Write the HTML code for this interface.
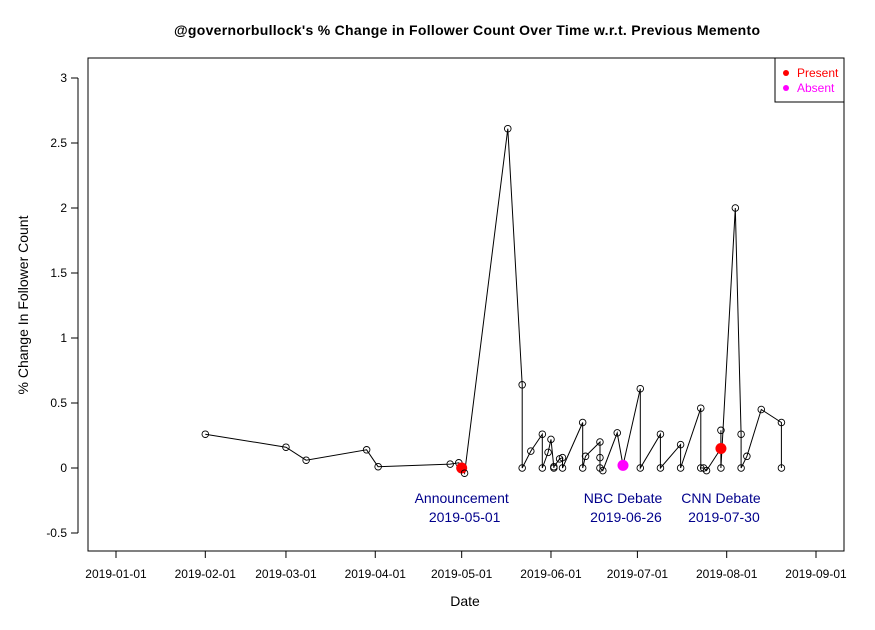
<!DOCTYPE html>
<html><head><meta charset="utf-8"><style>
body{margin:0;background:#fff}
svg{font-family:"Liberation Sans",sans-serif}
</style></head><body>
<svg id="c" width="875" height="625">
<rect width="875" height="625" fill="#fff"/>
<text x="467" y="35" text-anchor="middle" font-size="14" font-weight="bold" textLength="586">@governorbullock's % Change in Follower Count Over Time w.r.t. Previous Memento</text>
<rect x="88" y="58" width="756" height="493" fill="none" stroke="#000"/>
<text x="465" y="606" text-anchor="middle" font-size="14">Date</text>
<text transform="translate(28,305) rotate(-90)" text-anchor="middle" font-size="14">% Change In Follower Count</text>
<g id="axes"></g><g id="series"></g><g id="ann"></g>
<g>
<rect x="775" y="58" width="69" height="44" fill="#fff" stroke="#000"/>
<circle cx="786" cy="73" r="3" fill="#f00"/><text x="797" y="77" font-size="12" fill="#f00">Present</text>
<circle cx="786" cy="88" r="3" fill="#f0f"/><text x="797" y="92" font-size="12" fill="#f0f">Absent</text>
</g>
</svg>
<script>
const dates=["2019-02-01","2019-03-01","2019-03-08","2019-03-29","2019-04-02","2019-04-27","2019-04-30","2019-05-01","2019-05-02","2019-05-17","2019-05-22","2019-05-22","2019-05-25","2019-05-29","2019-05-29","2019-05-31","2019-06-01","2019-06-02","2019-06-02","2019-06-04","2019-06-05","2019-06-05","2019-06-12","2019-06-12","2019-06-13","2019-06-18","2019-06-18","2019-06-18","2019-06-19","2019-06-24","2019-06-26","2019-07-02","2019-07-02","2019-07-09","2019-07-09","2019-07-16","2019-07-16","2019-07-23","2019-07-23","2019-07-24","2019-07-25","2019-07-30","2019-07-30","2019-07-30","2019-08-04","2019-08-06","2019-08-06","2019-08-08","2019-08-13","2019-08-20","2019-08-20"];
const values=[0.26,0.16,0.06,0.14,0.01,0.03,0.04,0.0,-0.04,2.61,0.64,0.0,0.13,0.26,0.0,0.12,0.22,0.0,0.01,0.07,0.08,0.0,0.35,0.0,0.09,0.2,0.08,0.0,-0.02,0.27,0.02,0.61,0.0,0.26,0.0,0.18,0.0,0.46,0.0,0.0,-0.02,0.15,0.29,0.0,2.0,0.26,0.0,0.09,0.45,0.35,0.0];
const status=["","","","","","","","present","","","","","","","","","","","","","","","","","","","","","","","absent","","","","","","","","","","","present","","","","","","","","",""];
const yTicks=[-0.5,0,0.5,1,1.5,2,2.5,3];
const yTickLabels=["-0.5","0","0.5","1","1.5","2","2.5","3"];
const xTicks=["2019-01-01","2019-02-01","2019-03-01","2019-04-01","2019-05-01","2019-06-01","2019-07-01","2019-08-01","2019-09-01"];
const events=["2019-05-01","2019-06-26","2019-07-30"];
const eventNames=["Announcement","NBC Debate","CNN Debate"];
const NS="http://www.w3.org/2000/svg";
const t0=Date.UTC(2019,0,1);
const day=s=>(Date.parse(s+"T00:00:00Z")-t0)/86400000;
const X=s=>116+day(s)*(700/243);
const Y=v=>468-v*130;
function mk(tag,attrs,parent,txt){const e=document.createElementNS(NS,tag);for(const k in attrs)e.setAttribute(k,attrs[k]);if(txt!==undefined)e.textContent=txt;parent.appendChild(e);return e;}
const axes=document.getElementById('axes');
mk('line',{x1:78,x2:78,y1:Y(-0.5),y2:Y(3),stroke:'#000'},axes);
yTicks.forEach((v,i)=>{mk('line',{x1:71,x2:78,y1:Y(v),y2:Y(v),stroke:'#000'},axes);
const t=mk('text',{x:67,y:Y(v)+4,'text-anchor':'end','font-size':12},axes,yTickLabels[i]);

});
mk('line',{x1:X(xTicks[0]),x2:X(xTicks[xTicks.length-1]),y1:551,y2:551,stroke:'#000'},axes);
xTicks.forEach(s=>{mk('line',{x1:X(s),x2:X(s),y1:551,y2:558,stroke:'#000'},axes);
const t=mk('text',{x:X(s),y:578,'text-anchor':'middle','font-size':12},axes,s);

});
const g=document.getElementById('series');
const pts=dates.map((d,i)=>X(d).toFixed(1)+','+Y(values[i]).toFixed(1)).join(' ');
const pl=mk('polyline',{points:pts,fill:'none',stroke:'#000','stroke-width':1},g);


dates.forEach((d,i)=>{const c=mk('circle',{cx:X(d),cy:Y(values[i]),r:3.3,fill:'none',stroke:'#000','stroke-width':0.9},g);


if(status[i]){const m=mk('circle',{cx:X(d),cy:Y(values[i]),r:5.5,fill:status[i]==='present'?'#f00':'#f0f'},g);

}});
const ann=document.getElementById('ann');
events.forEach((d,i)=>{const x=X(d);
const t=mk('text',{x:x,y:503,'text-anchor':'middle','font-size':14,fill:'#00008b'},ann,eventNames[i]);


const t2=mk('text',{x:x+3,y:522,'text-anchor':'middle','font-size':14,fill:'#00008b'},ann,d);

});
</script>
</body></html>
